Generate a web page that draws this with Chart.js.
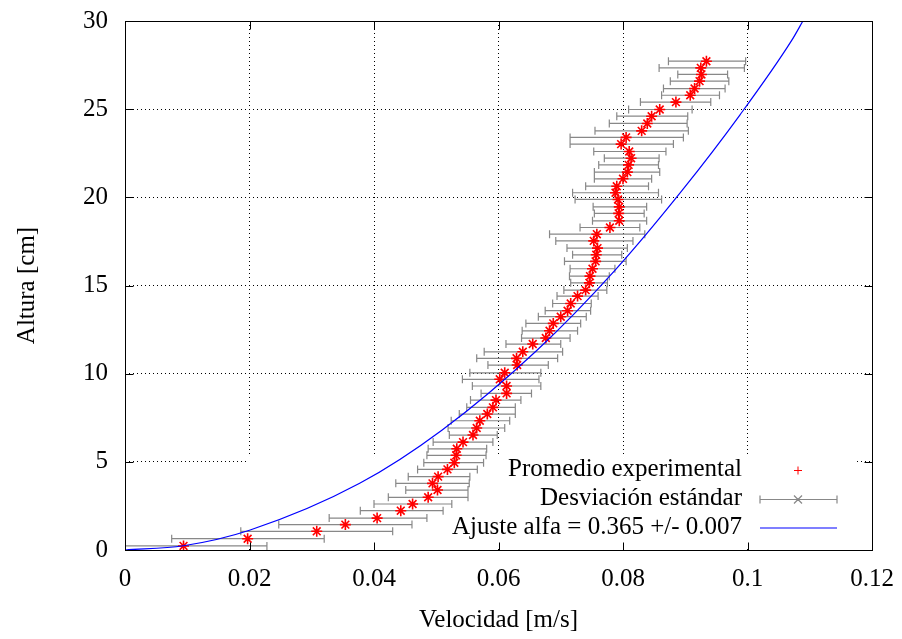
<!DOCTYPE html>
<html>
<head>
<meta charset="utf-8">
<script src="https://cdn.jsdelivr.net/npm/chart.js@4.4.0/dist/chart.umd.min.js"></script>
<style>
  html, body { margin: 0; padding: 0; background: #fff; }
  #wrap { width: 902px; height: 639px; }
</style>
</head>
<body>
<div id="wrap"><canvas id="myChart" width="902" height="639"></canvas></div>
<script>
// alturas [cm] y velocidades medias [m/s]
const alturas = [0.23, 0.64, 1.06, 1.44, 1.81, 2.23, 2.61, 2.99, 3.40, 3.78,
    4.16, 4.57, 4.95, 5.37, 5.74, 6.12, 6.52, 6.92, 7.33, 7.71,
    8.09, 8.50, 8.88, 9.30, 9.68, 10.05, 10.49, 10.87, 11.24, 11.68,
    12.02, 12.43, 12.85, 13.23, 13.57, 13.98, 14.40, 14.74, 15.15, 15.53,
    15.95, 16.37, 16.74, 17.12, 17.53, 17.91, 18.29, 18.67, 19.09, 19.46,
    19.88, 20.26, 20.63, 21.05, 21.43, 21.84, 22.22, 22.60, 23.02, 23.40,
    23.77, 24.19, 24.60, 24.98, 25.40, 25.79, 26.17, 26.59, 26.97, 27.34, 27.72];
const velocidades = [0.0094, 0.0197, 0.0308, 0.0354, 0.0405, 0.0443, 0.0462, 0.0487, 0.0502, 0.0494,
    0.0503, 0.0518, 0.0529, 0.0532, 0.0533, 0.0543, 0.0559, 0.0565, 0.0570, 0.0582,
    0.0591, 0.0596, 0.0613, 0.0613, 0.0602, 0.0610, 0.0630, 0.0629, 0.0639, 0.0655,
    0.0676, 0.0682, 0.0688, 0.0700, 0.0711, 0.0716, 0.0727, 0.0740, 0.0746, 0.0747,
    0.0751, 0.0756, 0.0757, 0.0759, 0.0753, 0.0758, 0.0779, 0.0794, 0.0793, 0.0794,
    0.0792, 0.0788, 0.0790, 0.0800, 0.0807, 0.0809, 0.0813, 0.0810, 0.0797, 0.0805,
    0.0830, 0.0839, 0.0846, 0.0859, 0.0885, 0.0908, 0.0915, 0.0923, 0.0926, 0.0925, 0.0934];
// extremos de la desviacion estandar
const velMin = [-0.0040, 0.0075, 0.0186, 0.0247, 0.0328, 0.0378, 0.0400, 0.0423, 0.0451, 0.0435,
    0.0455, 0.0470, 0.0480, 0.0485, 0.0487, 0.0495, 0.0521, 0.0519, 0.0524, 0.0537,
    0.0549, 0.0555, 0.0572, 0.0558, 0.0542, 0.0554, 0.0583, 0.0565, 0.0577, 0.0612,
    0.0637, 0.0638, 0.0644, 0.0664, 0.0675, 0.0687, 0.0694, 0.0705, 0.0716, 0.0714,
    0.0715, 0.0706, 0.0719, 0.0710, 0.0692, 0.0682, 0.0731, 0.0751, 0.0754, 0.0752,
    0.0723, 0.0719, 0.0740, 0.0754, 0.0754, 0.0761, 0.0770, 0.0753, 0.0715, 0.0715,
    0.0755, 0.0778, 0.0790, 0.0809, 0.0828, 0.0862, 0.0865, 0.0876, 0.0888, 0.0858, 0.0873];
const velMax = [0.0228, 0.0320, 0.0430, 0.0461, 0.0485, 0.0511, 0.0525, 0.0551, 0.0551, 0.0553,
    0.0554, 0.0566, 0.0576, 0.0580, 0.0581, 0.0591, 0.0598, 0.0610, 0.0618, 0.0627,
    0.0627, 0.0636, 0.0653, 0.0668, 0.0665, 0.0668, 0.0680, 0.0695, 0.0703, 0.0700,
    0.0715, 0.0727, 0.0732, 0.0741, 0.0748, 0.0749, 0.0760, 0.0774, 0.0775, 0.0778,
    0.0787, 0.0805, 0.0798, 0.0807, 0.0816, 0.0835, 0.0827, 0.0838, 0.0834, 0.0838,
    0.0862, 0.0857, 0.0841, 0.0846, 0.0859, 0.0857, 0.0858, 0.0869, 0.0881, 0.0897,
    0.0905, 0.0903, 0.0904, 0.0911, 0.0941, 0.0955, 0.0964, 0.0970, 0.0968, 0.0995, 0.0997];
// curva de ajuste, puntos leidos sobre la linea azul
const ajusteV = [0, 0.0094, 0.0200, 0.0377, 0.0509, 0.0661, 0.0787, 0.0894, 0.0988, 0.1071, 0.1089];
const ajusteH = [0, 0.24, 1.12, 3.78, 6.79, 11.30, 15.86, 20.35, 24.68, 28.90, 30.00];

const xTickLabels = ['0', '0.02', '0.04', '0.06', '0.08', '0.1', '0.12'];
const yTickLabels = ['0', '5', '10', '15', '20', '25', '30'];
const seriesLabels = ['Promedio experimental', 'Desviación estándar', 'Ajuste alfa = 0.365 +/- 0.007'];

// pick a serif face if one is installed, otherwise stay with Liberation Sans
function pickFont() {
    const c = document.createElement('canvas').getContext('2d');
    const probe = 'Velocidad Altura 0.123';
    c.font = '40px monospace';
    const base = c.measureText(probe).width;
    const names = ['Liberation Serif', 'DejaVu Serif', 'Noto Serif', 'Tinos', 'Times New Roman', 'FreeSerif'];
    for (const n of names) {
        c.font = "40px '" + n + "', monospace";
        if (Math.abs(c.measureText(probe).width - base) > 0.5) return "'" + n + "', serif";
    }
    return "'Liberation Sans', Arial, sans-serif";
}
const FONT = pickFont();
const FSIZE = 25;

const gnuplotBits = {
    id: 'gnuplotBits',
    beforeDatasetsDraw(chart) {
        const ctx = chart.ctx, xs = chart.scales.x, ys = chart.scales.y, area = chart.chartArea;
        ctx.save();
        // opaque key box
        ctx.fillStyle = '#fff';
        ctx.fillRect(247, 454, 607, area.bottom - 455);
        // error bars
        ctx.strokeStyle = '#888';
        ctx.lineWidth = 1.2;
        ctx.beginPath();
        alturas.forEach((h, i) => {
            const py = ys.getPixelForValue(h);
            const x0 = Math.max(xs.getPixelForValue(velMin[i]), area.left);
            const x1 = xs.getPixelForValue(velMax[i]);
            ctx.moveTo(x0, py); ctx.lineTo(x1, py);
            if (velMin[i] >= 0) { ctx.moveTo(x0, py - 4); ctx.lineTo(x0, py + 4); }
            ctx.moveTo(x1, py - 4); ctx.lineTo(x1, py + 4);
        });
        ctx.stroke();
        ctx.restore();
    },
    afterDatasetsDraw(chart) {
        const ctx = chart.ctx, xs = chart.scales.x, ys = chart.scales.y, a = chart.chartArea;
        ctx.save();
        // frame + inward ticks on all sides
        ctx.strokeStyle = '#000';
        ctx.lineWidth = 1;
        const L = Math.round(a.left) + 0.5, R = Math.round(a.right) + 0.5;
        const T = Math.round(a.top) + 0.5, B = Math.round(a.bottom) + 0.5;
        ctx.strokeRect(L, T, R - L, B - T);
        ctx.beginPath();
        xs.ticks.forEach(t => {
            const px = Math.round(xs.getPixelForValue(t.value)) + 0.5;
            ctx.moveTo(px, B); ctx.lineTo(px, B - 8);
            ctx.moveTo(px, T); ctx.lineTo(px, T + 8);
        });
        ys.ticks.forEach(t => {
            const py = Math.round(ys.getPixelForValue(t.value)) + 0.5;
            ctx.moveTo(L, py); ctx.lineTo(L + 8, py);
            ctx.moveTo(R, py); ctx.lineTo(R - 8, py);
        });
        ctx.stroke();

        // key
        const rows = [470.5, 499.5, 528];
        const sx0 = 760, sx1 = 837, sxm = 798;
        ctx.font = FSIZE + 'px ' + FONT;
        ctx.fillStyle = '#000';
        ctx.textAlign = 'right';
        ctx.textBaseline = 'middle';
        seriesLabels.forEach((t, i) => ctx.fillText(t, 742, rows[i] - 1));
        // red plus
        ctx.strokeStyle = '#ff0000';
        ctx.lineWidth = 1;
        ctx.beginPath();
        ctx.moveTo(sxm - 4, rows[0]); ctx.lineTo(sxm + 4, rows[0]);
        ctx.moveTo(sxm, rows[0] - 4); ctx.lineTo(sxm, rows[0] + 4);
        ctx.stroke();
        // error bar sample
        ctx.strokeStyle = '#888';
        ctx.lineWidth = 1.2;
        ctx.beginPath();
        ctx.moveTo(sx0, rows[1]); ctx.lineTo(sx1, rows[1]);
        ctx.moveTo(sx0, rows[1] - 4); ctx.lineTo(sx0, rows[1] + 4);
        ctx.moveTo(sx1, rows[1] - 4); ctx.lineTo(sx1, rows[1] + 4);
        ctx.moveTo(sxm - 4, rows[1] - 4); ctx.lineTo(sxm + 4, rows[1] + 4);
        ctx.moveTo(sxm - 4, rows[1] + 4); ctx.lineTo(sxm + 4, rows[1] - 4);
        ctx.stroke();
        // blue line
        ctx.strokeStyle = '#0000ff';
        ctx.lineWidth = 1.2;
        ctx.beginPath();
        ctx.moveTo(sx0, rows[2]); ctx.lineTo(sx1, rows[2]);
        ctx.stroke();
        ctx.restore();
    }
};

const ctx = document.getElementById('myChart').getContext('2d');
new Chart(ctx, {
    type: 'scatter',
    data: {
        datasets: [{
            label: seriesLabels[0],
            data: velocidades.map((v, i) => ({x: v, y: alturas[i]})),
            showLine: false,
            pointStyle: 'star',
            pointRadius: 5.5,
            pointBorderWidth: 1.6,
            pointBorderColor: '#ff0000',
            pointBackgroundColor: '#ff0000',
            order: 1
        }, {
            label: seriesLabels[2],
            data: ajusteV.map((v, i) => ({x: v, y: ajusteH[i]})),
            showLine: true,
            borderColor: '#0000ff',
            borderWidth: 1.2,
            pointRadius: 0,
            cubicInterpolationMode: 'monotone',
            fill: false,
            order: 0
        }]
    },
    options: {
        responsive: false,
        animation: false,
        events: [],
        devicePixelRatio: 1,
        layout: { padding: { top: 21, right: 30, left: 0, bottom: 0 } },
        plugins: { legend: { display: false }, tooltip: { enabled: false } },
        scales: {
            x: {
                type: 'linear',
                min: 0,
                max: 0.12,
                afterFit: s => { s.height = 89; s.paddingLeft = 0; s.paddingRight = 0; },
                ticks: {
                    stepSize: 0.02,
                    color: '#000',
                    padding: 14,
                    maxRotation: 0,
                    font: { family: FONT, size: FSIZE },
                    callback: (v, i) => xTickLabels[i]
                },
                grid: { color: '#000', lineWidth: 1, drawTicks: false },
                border: { display: false, dash: [1, 3] },
                title: {
                    display: true,
                    text: 'Velocidad [m/s]',
                    color: '#000',
                    font: { family: FONT, size: FSIZE },
                    padding: { top: 0, bottom: 4 }
                }
            },
            y: {
                type: 'linear',
                min: 0,
                max: 30,
                afterFit: s => { s.width = 125; s.paddingTop = 0; s.paddingBottom = 0; },
                ticks: {
                    stepSize: 5,
                    color: '#000',
                    padding: 17,
                    font: { family: FONT, size: FSIZE },
                    callback: (v, i) => yTickLabels[i]
                },
                grid: { color: '#000', lineWidth: 1, drawTicks: false },
                border: { display: false, dash: [1, 3] },
                title: {
                    display: true,
                    text: 'Altura [cm]',
                    color: '#000',
                    font: { family: FONT, size: FSIZE },
                    padding: { top: 12, bottom: 0 }
                }
            }
        }
    },
    plugins: [gnuplotBits]
});
</script>
</body>
</html>
